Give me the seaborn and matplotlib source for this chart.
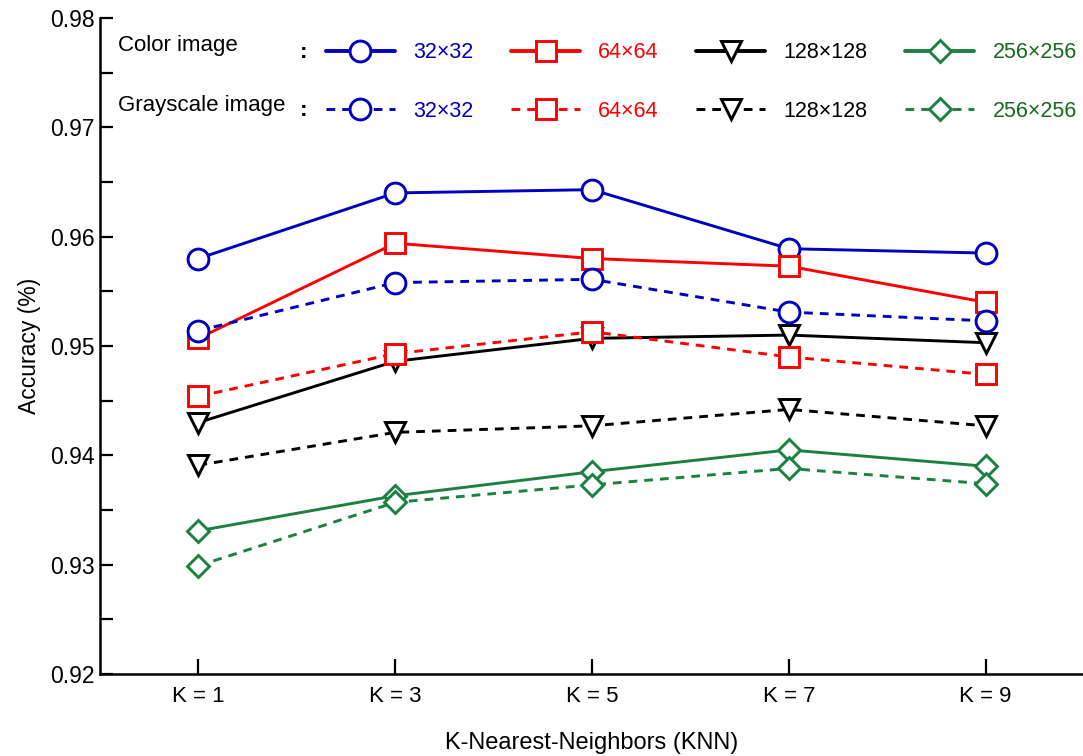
import numpy as np
import pandas as pd
import matplotlib
matplotlib.use('Agg')
import matplotlib.pyplot as plt
import seaborn as sns
from matplotlib.lines import Line2D
from matplotlib.ticker import MultipleLocator, FormatStrFormatter

# --- data ---
k_labels = ['K = 1', 'K = 3', 'K = 5', 'K = 7', 'K = 9']
sizes = ['32×32', '64×64', '128×128', '256×256']

color_32 = [0.9580, 0.9640, 0.9643, 0.9589, 0.9585]
color_64 = [0.9507, 0.9594, 0.9580, 0.9573, 0.9540]
color_128 = [0.9430, 0.9486, 0.9507, 0.9510, 0.9503]
color_256 = [0.9331, 0.9363, 0.9385, 0.9405, 0.9390]

gray_32 = [0.9514, 0.9558, 0.9561, 0.9531, 0.9523]
gray_64 = [0.9454, 0.9493, 0.9513, 0.9490, 0.9474]
gray_128 = [0.9391, 0.9421, 0.9427, 0.9442, 0.9427]
gray_256 = [0.9299, 0.9357, 0.9373, 0.9388, 0.9374]

# --- styling ---
sns.set_style('ticks')
plt.rcParams['font.family'] = ['Liberation Sans', 'DejaVu Sans']
plt.rcParams['text.color'] = 'black'
plt.rcParams['axes.labelcolor'] = 'black'
plt.rcParams['xtick.color'] = 'black'
plt.rcParams['ytick.color'] = 'black'
plt.rcParams['axes.edgecolor'] = 'black'

line_colors = ['#0000C0', '#FF0000', '#000000', '#1C8040']
text_colors = ['#0000C0', '#FF0000', '#000000', '#176B1E']
markers = ['o', 's', 'v', 'D']
msizes = [15, 15, 15, 11.5]

series = {
    'Color': [color_32, color_64, color_128, color_256],
    'Gray': [gray_32, gray_64, gray_128, gray_256],
}

fig = plt.figure(figsize=(10.83, 7.56), dpi=100)
ax = fig.add_axes([100 / 1083, 82 / 756, 984 / 1083, 656 / 756])

handles = {'Color': [], 'Gray': []}
for kind, dash in [('Color', None), ('Gray', (3, 2.4))]:
    for i, vals in enumerate(series[kind]):
        df = pd.DataFrame({'K': k_labels, 'acc': vals})
        kw = dict(color=line_colors[i], marker=markers[i], markersize=msizes[i],
                  markerfacecolor='white', markeredgecolor=line_colors[i],
                  markeredgewidth=2.1, linewidth=2.1)
        if dash is not None:
            kw['dashes'] = dash
        sns.lineplot(data=df, x='K', y='acc', ax=ax, sort=False, **kw)
        h = Line2D([], [], color=line_colors[i], marker=markers[i],
                   markersize=msizes[i], markerfacecolor='white',
                   markeredgecolor=line_colors[i], markeredgewidth=2.1,
                   linewidth=2.8 if dash is None else 2.1,
                   linestyle='-' if dash is None else (0, dash))
        handles[kind].append(h)

ax.set_xlim(-0.5, 4.5)
ax.set_ylim(0.92, 0.98)
ax.yaxis.set_major_locator(MultipleLocator(0.01))
ax.yaxis.set_minor_locator(MultipleLocator(0.005))
ax.yaxis.set_major_formatter(FormatStrFormatter('%.2f'))

for s in ['top', 'right']:
    ax.spines[s].set_visible(False)
for s in ['left', 'bottom']:
    ax.spines[s].set_linewidth(1.8)

ax.tick_params(axis='y', which='both', direction='in', length=9, width=1.6,
               labelsize=16.5, pad=4)
ax.tick_params(axis='x', direction='in', length=11, width=1.6,
               labelsize=16, pad=9)

ax.set_xlabel('K-Nearest-Neighbors (KNN)', fontsize=17, labelpad=18)
ax.set_ylabel('Accuracy (%)', fontsize=16.5, labelpad=6)

# --- two-row legend ---
leg_handles, leg_labels = [], []
for i in range(4):
    leg_handles += [handles['Color'][i], handles['Gray'][i]]
    leg_labels += [sizes[i], sizes[i]]

leg = ax.legend(leg_handles, leg_labels, ncol=4, frameon=False,
                loc='center left', bbox_to_anchor=(326 / 1083, 1 - 82 / 756),
                bbox_transform=fig.transFigure, fontsize=15.5,
                handlelength=3.2, handletextpad=0.85, columnspacing=1.75,
                labelspacing=1.75, borderpad=0, borderaxespad=0)
for t, i in zip(leg.get_texts(), [0, 0, 1, 1, 2, 2, 3, 3]):
    t.set_color(text_colors[i])

fig.text(118 / 1083, 1 - 46 / 756, 'Color image', fontsize=16, va='center')
fig.text(118 / 1083, 1 - 105 / 756, 'Grayscale image', fontsize=16, va='center')
fig.text(300 / 1083, 1 - 52 / 756, ':', fontsize=16, va='center', fontweight='bold')
fig.text(300 / 1083, 1 - 111 / 756, ':', fontsize=16, va='center', fontweight='bold')

fig.savefig('out.png', dpi=100)
